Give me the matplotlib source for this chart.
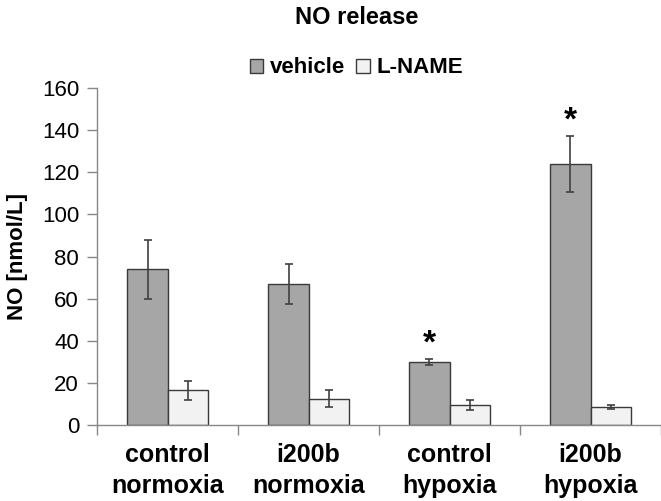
import numpy as np
import matplotlib.pyplot as plt

plt.rcParams['font.family'] = ['Liberation Sans', 'DejaVu Sans']

groups = ["control\nnormoxia", "i200b\nnormoxia", "control\nhypoxia", "i200b\nhypoxia"]
vehicle = [74, 67, 30, 124]
vehicle_err = [14, 9.5, 1.5, 13.5]
lname = [16.5, 12.5, 9.5, 8.5]
lname_err = [4.5, 4, 2.5, 1]
stars = ["", "", "*", "*"]

fig = plt.figure(figsize=(6.61, 5.01), dpi=100)
ax = fig.add_axes([0.147, 0.152, 0.853, 0.672])

x = np.arange(len(groups))
w = 0.285
ekw = dict(ecolor="#404040", elinewidth=1.2, capsize=3, capthick=1.2)
ax.bar(x - w / 2, vehicle, w, yerr=vehicle_err, color="#a6a6a6", edgecolor="#3a3a3a",
       linewidth=1, label="vehicle", error_kw=ekw)
ax.bar(x + w / 2, lname, w, yerr=lname_err, color="#f2f2f2", edgecolor="#3a3a3a",
       linewidth=1, label="L-NAME", error_kw=ekw)

for i, s in enumerate(stars):
    if s:
        ax.text(x[i] - w / 2, vehicle[i] + vehicle_err[i] - 0.5, s, ha="center", va="bottom",
                fontsize=24, fontweight="bold")

ax.set_xlim(-0.5, len(groups) - 0.5)
ax.set_ylim(0, 160)
ax.set_yticks(range(0, 161, 20))
ax.tick_params(axis="y", labelsize=16, length=7, color="#888888", width=1, pad=6)
ax.set_xticks(np.arange(-0.5, len(groups), 1.0))
ax.set_xticklabels([])
ax.set_xticks(x, minor=True)
ax.set_xticklabels(groups, minor=True, fontsize=18, fontweight="bold", linespacing=1.35)
ax.tick_params(axis="x", which="major", length=7, color="#888888", width=1, direction="out")
ax.tick_params(axis="x", which="minor", length=0, pad=13)

for side in ["top", "right"]:
    ax.spines[side].set_visible(False)
for side in ["left", "bottom"]:
    ax.spines[side].set_color("#888888")
    ax.spines[side].set_linewidth(1)

ax.set_ylabel("NO [nmol/L]", fontsize=16, fontweight="bold", labelpad=10)
fig.text(0.54, 0.965, "NO release", ha="center", va="center", fontsize=17, fontweight="bold")
ax.legend(loc="center", bbox_to_anchor=(0.46, 1.06), ncol=2, frameon=False,
          prop={"weight": "bold", "size": 16}, handlelength=0.6, handleheight=0.6,
          handletextpad=0.3, columnspacing=0.5, borderpad=0)

fig.savefig("out.png", dpi=100)
